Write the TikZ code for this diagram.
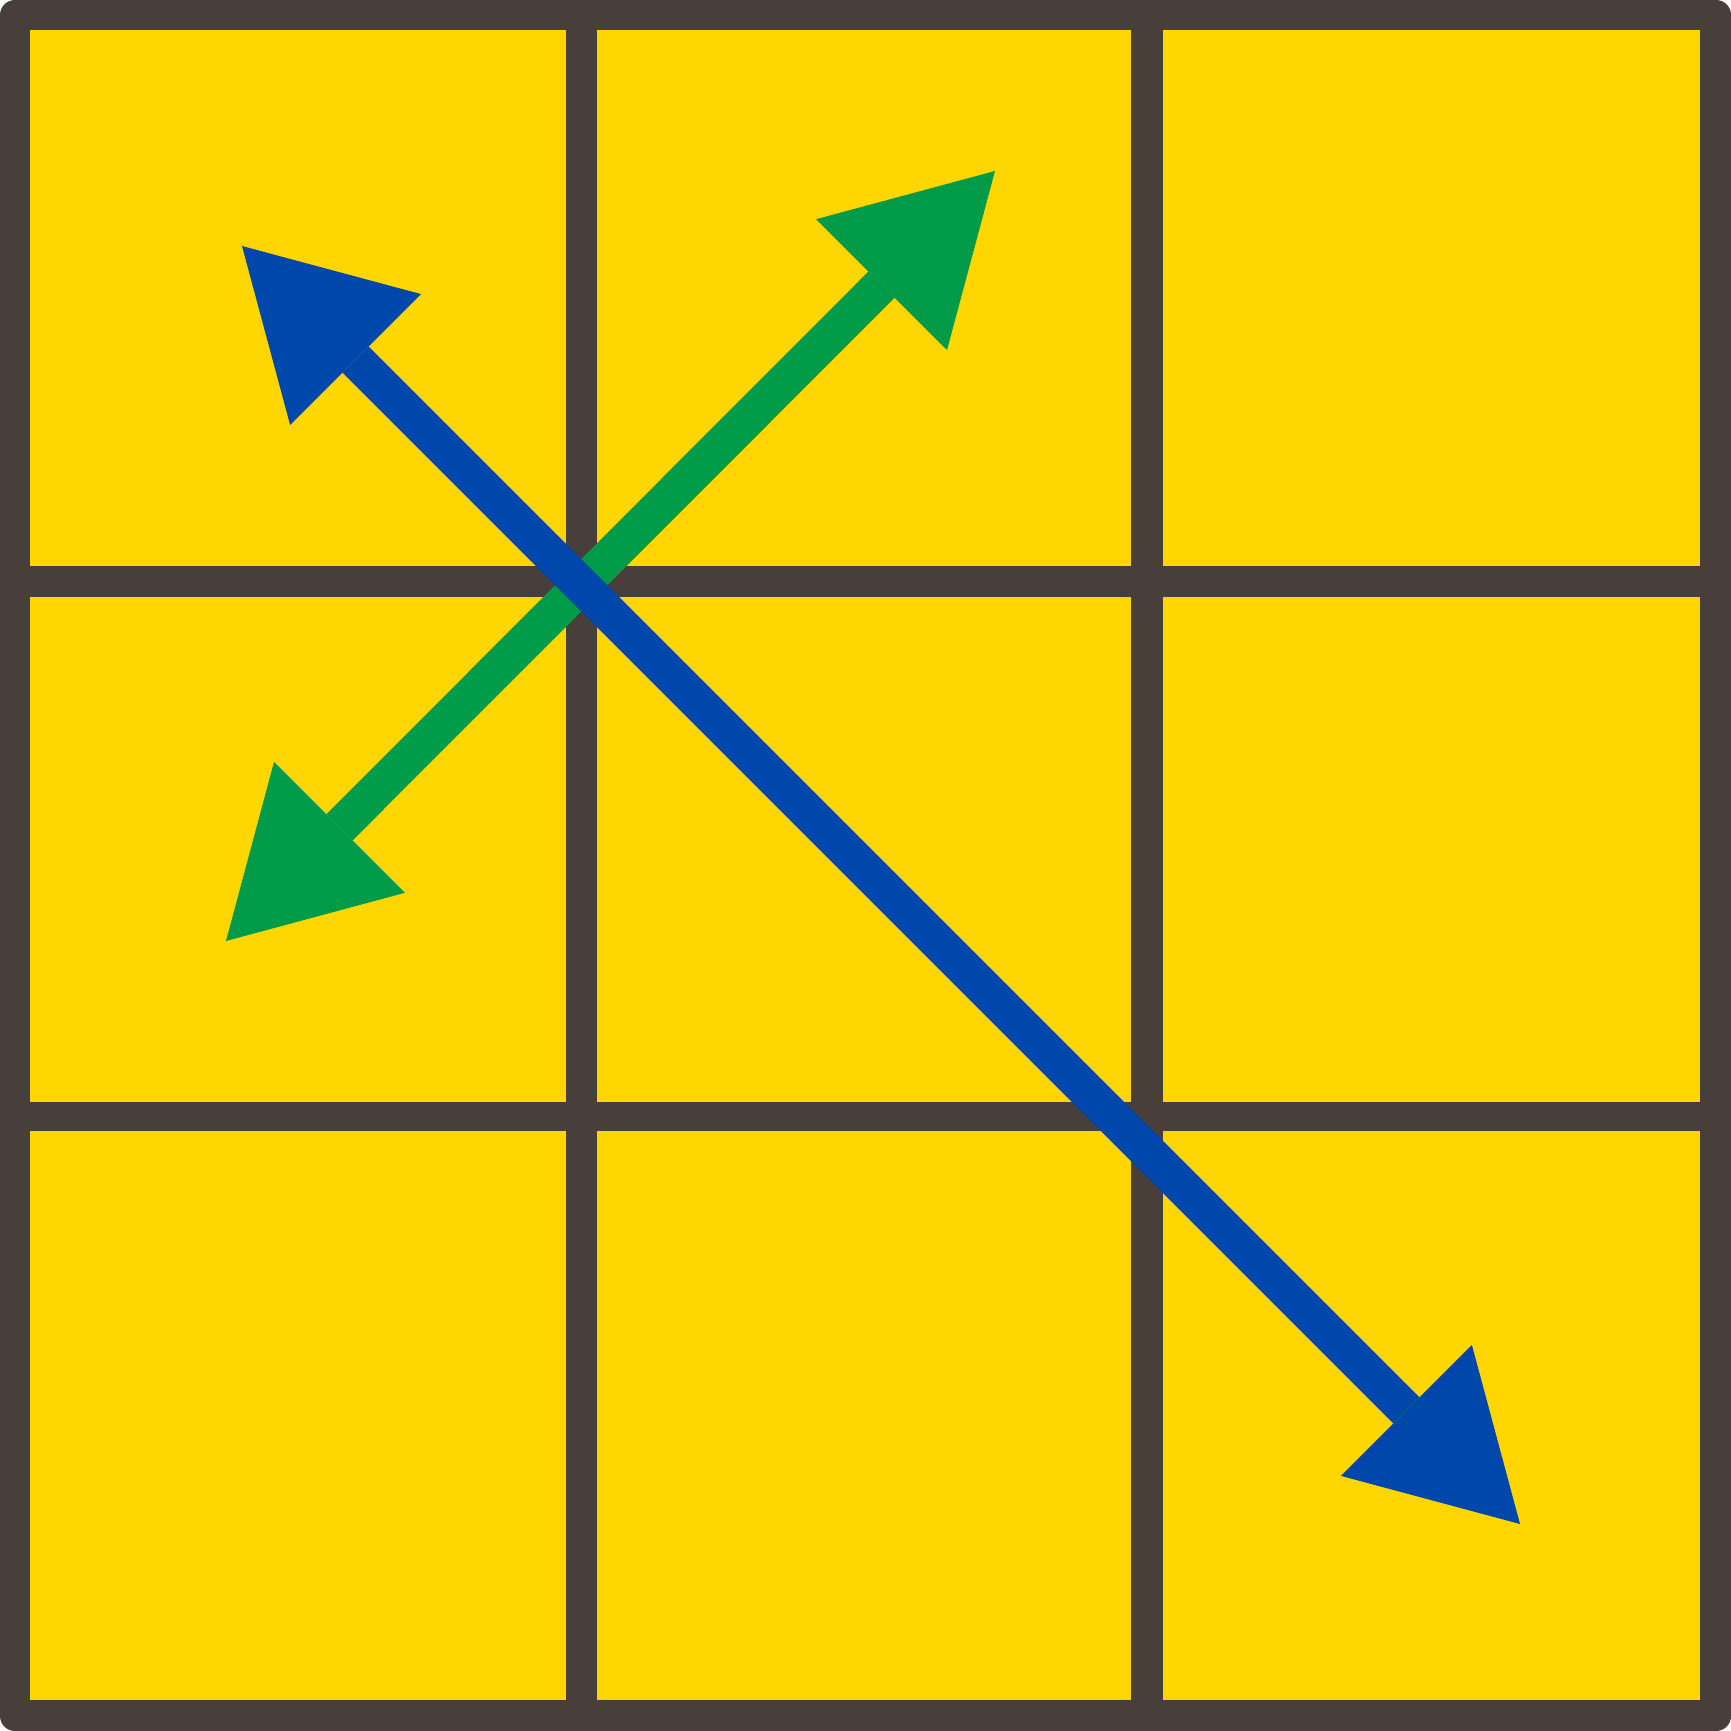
\documentclass[tikz,border=0pt]{standalone}
\usetikzlibrary{arrows.meta}
\begin{document}
\begin{tikzpicture}[x=0.01cm,y=-0.01cm]
        % Colours of the cube face and the two moves
        \definecolor{gridline}{RGB}{72, 62, 58}
        \definecolor{sticker}{RGB}{255, 214, 0}
        \definecolor{moveblue}{RGB}{0, 71, 171}
        \definecolor{movegreen}{RGB}{0, 155, 72}

        \tikzset{
            cell/.style={fill=sticker},
            movearrow/.style={line width=0.37cm, {Triangle[length=1.605cm, width=1.85cm, line width=0pt]}-{Triangle[length=1.605cm, width=1.85cm, line width=0pt]}}
        }

        % Frame behind the stickers
        \fill[gridline, rounded corners=0.15cm] (0,0) rectangle (1731,1731);

        % Top row
        \fill[cell] (30,30) rectangle (566,566);
        \fill[cell] (597,30) rectangle (1131,566);
        \fill[cell] (1163,30) rectangle (1700,566);

        % Middle row
        \fill[cell] (30,597) rectangle (566,1102);
        \fill[cell] (597,597) rectangle (1131,1102);
        \fill[cell] (1163,597) rectangle (1700,1102);

        % Bottom row
        \fill[cell] (30,1131) rectangle (566,1700);
        \fill[cell] (597,1131) rectangle (1131,1700);
        \fill[cell] (1163,1131) rectangle (1700,1700);

        % Arrow end points
        \coordinate (greenA) at (226,941);
        \coordinate (greenB) at (995,171);
        \coordinate (blueA) at (242,246);
        \coordinate (blueB) at (1520,1524);

        % Moves (blue on top)
        \draw[movearrow, movegreen] (greenA) -- (greenB);
        \draw[movearrow, moveblue] (blueA) -- (blueB);
\end{tikzpicture}
\end{document}
